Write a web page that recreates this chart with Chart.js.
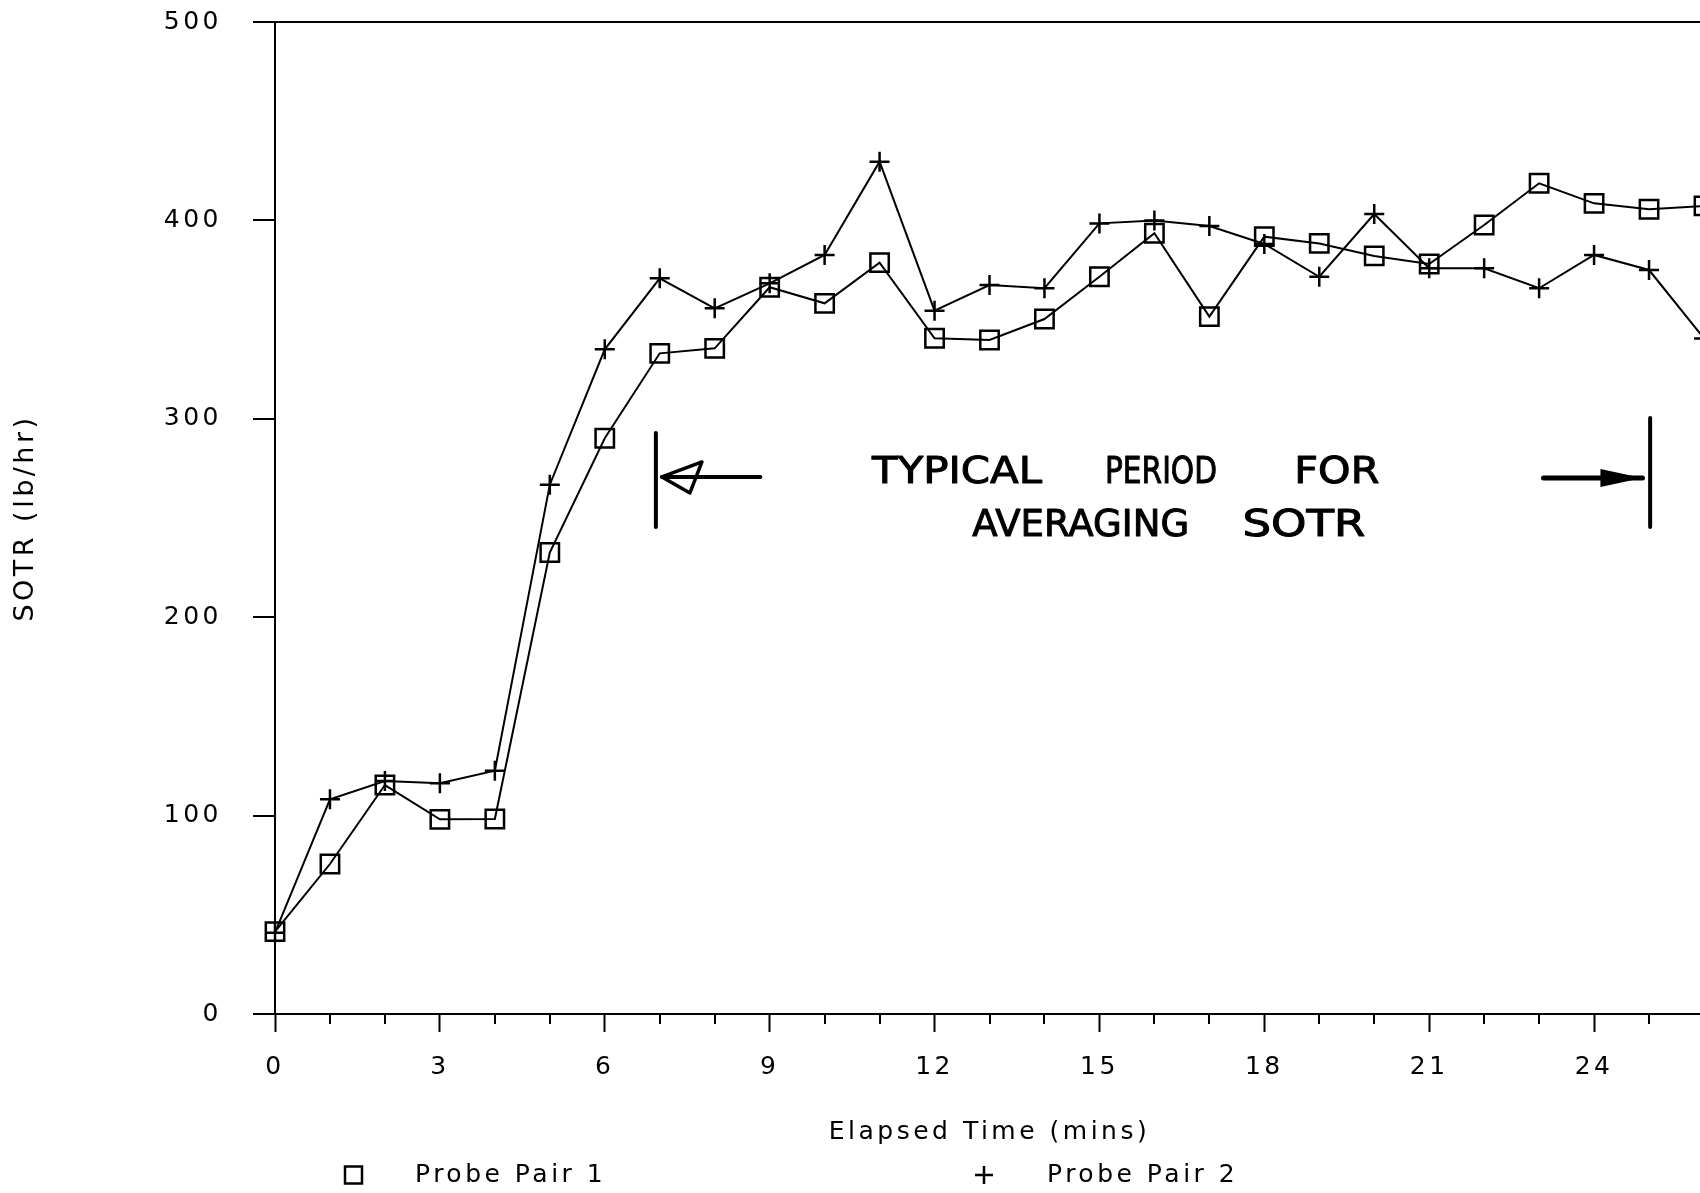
<!DOCTYPE html>
<html><head><meta charset="utf-8">
<script src="https://cdn.jsdelivr.net/npm/chart.js@4.4.1/dist/chart.umd.min.js"></script>
<style>
html,body{margin:0;padding:0;background:#fff;overflow:hidden;width:1700px;height:1193px;}
#wrap{position:relative;width:1700px;height:1193px;overflow:hidden;background:#fff;}
canvas{display:block;}
</style></head><body>
<div id="wrap"><canvas id="c" width="1720" height="1193"></canvas></div>
<script>
// ---- data ----
const elapsedMinutes = [0,1,2,3,4,5,6,7,8,9,10,11,12,13,14,15,16,17,18,19,20,21,22,23,24,25,26];
const probePair1 = [41.5,75.6,115.4,98.1,98.3,232.6,290.2,333.0,335.5,366.3,358.2,378.7,340.6,339.7,350.3,371.6,393.5,351.5,391.8,388.4,382.1,378.0,397.7,418.7,408.6,405.6,407.3];
const probePair2 = [41.0,108.2,117.4,116.3,122.6,266.8,335.0,370.8,355.7,368.3,382.6,429.6,354.5,367.4,365.8,398.5,399.9,397.2,388.1,371.6,403.2,375.9,375.9,365.8,382.6,375.0,340.5];
const yTickValues = [0,100,200,300,400,500];
const xTickValues = [0,3,6,9,12,15,18,21,24];
const seriesNames = ['Probe Pair 1','Probe Pair 2'];
const xTitle = 'Elapsed Time (mins)';
const yTitle = 'SOTR (lb/hr)';
const noteLine1 = ['TYPICAL','PERIOD','FOR'];
const noteLine2 = ['AVERAGING','SOTR'];

// ---- annotation layout (positions in axis units / pixels) ----
const noteLayout = {
  line1: {y:274.2, x:[12.41,16.12,19.32], w:[170,112,85]},
  line2: {y:247.2, x:[14.66,18.72], w:[217,123]},
  bars: [{x:6.93, y1:292.8, y2:245.5}, {x:25.02, y1:300.4, y2:245.5}],
  leftArrow: {from:8.83, to:7.04, y:270.7},
  rightArrow: {from:23.08, to:24.88, y:270.2}
};

const FONT = "'DejaVu Sans', sans-serif";
const SPACING = '3.5px';
const FS = 25;
Chart.defaults.font.family = FONT;
Chart.defaults.color = '#000';

const spacingPlugin = {
  id: 'spacing',
  beforeUpdate(c){ c.ctx.letterSpacing = SPACING; },
  beforeLayout(c){ c.ctx.letterSpacing = SPACING; },
  beforeDraw(c){ c.ctx.letterSpacing = SPACING; }
};

const minorTicksPlugin = {
  id: 'minorTicks',
  afterDraw(c){
    const x = c.scales.x, y = c.scales.y, ctx = c.ctx;
    const y0 = y.getPixelForValue(0);
    ctx.save();
    ctx.strokeStyle = '#000'; ctx.lineWidth = 2;
    elapsedMinutes.forEach(m => {
      if (xTickValues.includes(m)) return;
      const px = Math.round(x.getPixelForValue(m));
      ctx.beginPath(); ctx.moveTo(px, y0); ctx.lineTo(px, y0 + 10); ctx.stroke();
    });
    ctx.restore();
  }
};

const legendPlugin = {
  id: 'refLegend',
  afterDraw(c){
    const ctx = c.ctx;
    const cy = 1175;
    ctx.save();
    ctx.letterSpacing = SPACING;
    ctx.strokeStyle = '#000'; ctx.fillStyle = '#000';
    ctx.lineWidth = 2.5;
    ctx.strokeRect(345, cy - 8.5, 17, 17);
    ctx.beginPath();
    ctx.moveTo(975, cy); ctx.lineTo(993, cy);
    ctx.moveTo(984, cy - 9); ctx.lineTo(984, cy + 9);
    ctx.stroke();
    ctx.font = FS + "px " + FONT;
    ctx.textBaseline = 'middle'; ctx.textAlign = 'left';
    ctx.fillText(seriesNames[0], 415, cy);
    ctx.fillText(seriesNames[1], 1047, cy);
    ctx.restore();
  }
};

const notePlugin = {
  id: 'note',
  afterDatasetsDraw(c){
    const ctx = c.ctx, xs = c.scales.x, ys = c.scales.y;
    const L = noteLayout;
    ctx.save();
    ctx.letterSpacing = '0px';
    ctx.strokeStyle = '#000'; ctx.fillStyle = '#000';
    ctx.lineCap = 'round';
    ctx.lineWidth = 4;
    L.bars.forEach(b => {
      const px = xs.getPixelForValue(b.x);
      ctx.beginPath(); ctx.moveTo(px, ys.getPixelForValue(b.y1)); ctx.lineTo(px, ys.getPixelForValue(b.y2)); ctx.stroke();
    });
    let a = L.leftArrow;
    let py = ys.getPixelForValue(a.y), tip = xs.getPixelForValue(a.to), tail = xs.getPixelForValue(a.from);
    ctx.lineWidth = 4;
    ctx.beginPath(); ctx.moveTo(tail, py); ctx.lineTo(tip, py); ctx.stroke();
    ctx.lineWidth = 3.5; ctx.lineJoin = 'round';
    ctx.beginPath(); ctx.moveTo(tip, py); ctx.lineTo(tip + 40, py - 15); ctx.lineTo(tip + 28, py + 16); ctx.closePath(); ctx.stroke();
    a = L.rightArrow;
    py = ys.getPixelForValue(a.y); tip = xs.getPixelForValue(a.to); tail = xs.getPixelForValue(a.from);
    ctx.lineWidth = 5;
    ctx.beginPath(); ctx.moveTo(tail, py); ctx.lineTo(tip, py); ctx.stroke();
    ctx.beginPath(); ctx.moveTo(tip, py); ctx.lineTo(tip - 42, py - 9); ctx.lineTo(tip - 42, py + 9); ctx.closePath(); ctx.fill();
    ctx.font = "37px " + FONT;
    ctx.textAlign = 'center'; ctx.textBaseline = 'middle';
    ctx.lineWidth = 1;
    const drawWords = (words, line) => {
      words.forEach((wd, i) => {
        const px = xs.getPixelForValue(line.x[i]);
        const pyy = ys.getPixelForValue(line.y) + 3;
        const mw = ctx.measureText(wd).width;
        const sx = line.w[i] / mw;
        ctx.save();
        ctx.translate(px, pyy);
        ctx.scale(sx, 1);
        ctx.fillText(wd, 0, 0);
        ctx.strokeText(wd, 0, 0);
        ctx.restore();
      });
    };
    drawWords(noteLine1, L.line1);
    drawWords(noteLine2, L.line2);
    ctx.restore();
  }
};

const toPoints = arr => elapsedMinutes.map((t, i) => ({x: t, y: arr[i]}));

new Chart(document.getElementById('c'), {
  type: 'line',
  data: {
    datasets: [
      {
        label: seriesNames[0], data: toPoints(probePair1),
        borderColor: '#000', borderWidth: 2, tension: 0, fill: false,
        pointStyle: 'rect', pointRadius: 13, pointBorderWidth: 2.5,
        pointBackgroundColor: 'rgba(0,0,0,0)', pointBorderColor: '#000', clip: false
      },
      {
        label: seriesNames[1], data: toPoints(probePair2),
        borderColor: '#000', borderWidth: 2, tension: 0, fill: false,
        pointStyle: 'cross', pointRadius: 10, pointBorderWidth: 2.5,
        pointBackgroundColor: 'rgba(0,0,0,0)', pointBorderColor: '#000', clip: false
      }
    ]
  },
  options: {
    responsive: false,
    animation: false,
    devicePixelRatio: 1,
    layout: { padding: { top: 22, right: 16, bottom: 44, left: 0 } },
    plugins: { legend: { display: false }, tooltip: { enabled: false } },
    scales: {
      x: {
        type: 'linear', min: 0, max: 26,
        afterBuildTicks: s => { s.ticks = xTickValues.map(v => ({value: v})); },
        afterFit: s => { s.height = 135; s.paddingLeft = 0; s.paddingRight = 0; },
        grid: { display: true, drawOnChartArea: false, drawTicks: true, tickLength: 18, tickWidth: 2, tickColor: '#000' },
        border: { display: true, color: '#000', width: 2 },
        ticks: { font: { size: FS }, color: '#000', padding: 20, maxRotation: 0, autoSkip: false },
        title: { display: true, text: xTitle, font: { size: FS }, color: '#000', padding: { top: 0, bottom: 2 } }
      },
      y: {
        type: 'linear', min: 0, max: 500,
        afterBuildTicks: s => { s.ticks = yTickValues.map(v => ({value: v})); },
        afterFit: s => { s.width = 275; s.paddingTop = 0; s.paddingBottom = 0; },
        grid: {
          display: true, drawOnChartArea: true, drawTicks: true,
          color: ctx => (ctx.tick && ctx.tick.value === 500) ? '#000' : 'rgba(0,0,0,0)',
          lineWidth: 2, tickLength: 22, tickWidth: 2, tickColor: '#000'
        },
        border: { display: true, color: '#000', width: 2 },
        ticks: { font: { size: FS }, color: '#000', padding: 31 },
        title: { display: true, text: yTitle, font: { size: 27 }, color: '#000', padding: { top: 10, bottom: 0 } }
      }
    }
  },
  plugins: [spacingPlugin, minorTicksPlugin, legendPlugin, notePlugin]
});
</script>
</body></html>
